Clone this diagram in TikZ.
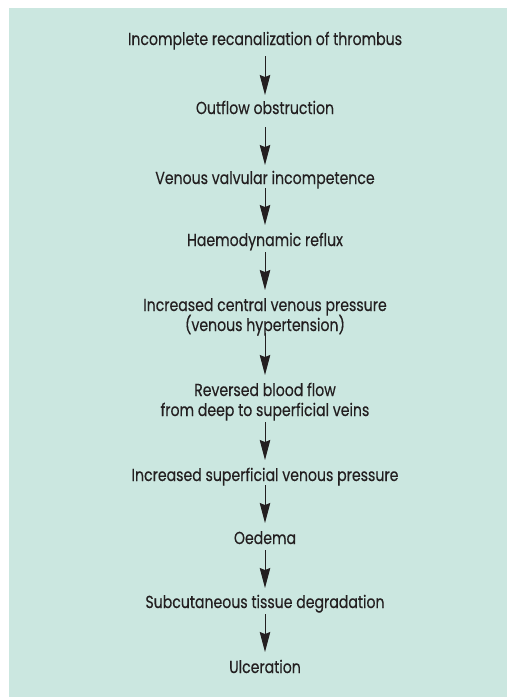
\documentclass[tikz,border=0pt]{standalone}
\usepackage{fontspec}
\setmainfont[FakeStretch=0.81,FakeBold=0.3]{Poppins}
\usetikzlibrary{arrows.meta}
\definecolor{bgteal}{RGB}{203,231,224}
\definecolor{ink}{RGB}{35,31,32}
\tikzset{
  lbl/.style={anchor=base, inner sep=0pt, text=ink, font=\fontsize{17.4}{20}\selectfont},
  arr/.style={draw=ink, line width=1pt, -{Stealth[length=20pt,width=10.5pt,inset=2pt]}}
}
\begin{document}
\begin{tikzpicture}[x=1pt,y=1pt]
\useasboundingbox (0,0) rectangle (509,-697);
\fill[bgteal] (9,-7.5) rectangle (507,-697);
\node[lbl] (n1) at (265,-45) {Incomplete recanalization of thrombus};
\node[lbl] (n2) at (265,-114) {Outflow obstruction};
\node[lbl] (n3) at (265,-184) {Venous valvular incompetence};
\node[lbl] (n4) at (265,-246) {Haemodynamic reflux};
\node[lbl] (n5) at (265,-311) {Increased central venous pressure};
\node[lbl] (n5b) at (265,-331) {(venous hypertension)};
\node[lbl] (n6) at (265,-396) {Reversed blood flow};
\node[lbl] (n6b) at (265,-416) {from deep to superficial veins};
\node[lbl] (n7) at (265,-481) {Increased superficial venous pressure};
\node[lbl] (n8) at (265,-544) {Oedema};
\node[lbl] (n9) at (265,-608) {Subcutaneous tissue degradation};
\node[lbl] (n10) at (265,-673) {Ulceration};
\draw[arr] ([yshift=-11pt]n1.base) -- ([yshift=19pt]n2.base);
\draw[arr] ([yshift=-13pt]n2.base) -- ([yshift=19pt]n3.base);
\draw[arr] ([yshift=-4pt]n3.base) -- ([yshift=21pt]n4.base);
\draw[arr] ([yshift=-6pt]n4.base) -- ([yshift=21pt]n5.base);
\draw[arr] ([yshift=-2pt]n5b.base) -- ([yshift=21pt]n6.base);
\draw[arr] ([yshift=-6pt]n6b.base) -- ([yshift=21pt]n7.base);
\draw[arr] ([yshift=-4pt]n7.base) -- ([yshift=21pt]n8.base);
\draw[arr] ([yshift=-6pt]n8.base) -- ([yshift=20pt]n9.base);
\draw[arr] ([yshift=-6pt]n9.base) -- ([yshift=21pt]n10.base);
\end{tikzpicture}
\end{document}
